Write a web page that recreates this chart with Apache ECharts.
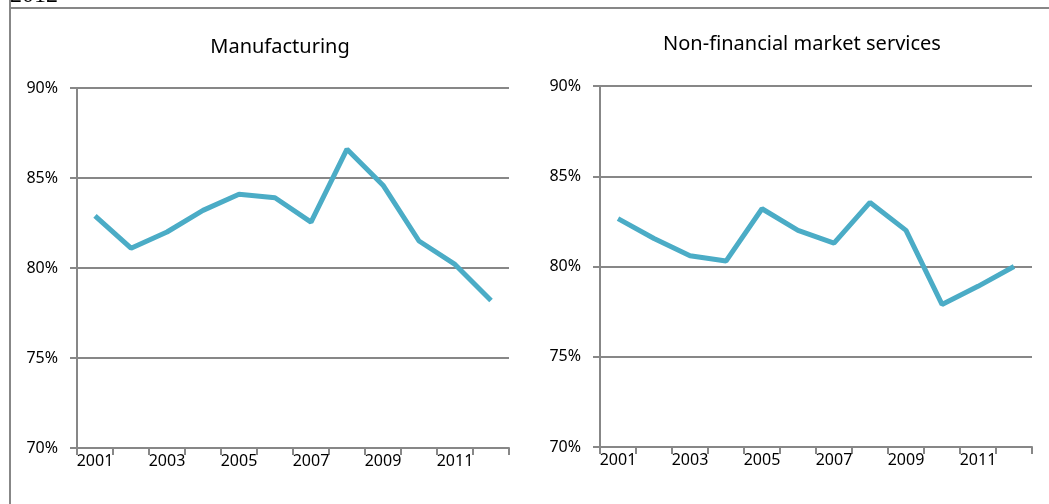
<!DOCTYPE html>
<html>
<head>
<meta charset="utf-8">
<script src="https://cdn.jsdelivr.net/npm/echarts@6/dist/echarts.min.js"></script>
<style>
html,body{margin:0;padding:0;background:#fff;}
#chart{width:1049px;height:504px;}
</style>
</head>
<body>
<div id="chart"></div>
<script>
const years = ['2001','2002','2003','2004','2005','2006','2007','2008','2009','2010','2011','2012'];
const manufacturing = [82.9, 81.1, 82.0, 83.2, 84.1, 83.9, 82.55, 86.6, 84.6, 81.5, 80.2, 78.2];
const services = [82.65, 81.55, 80.6, 80.3, 83.2, 82.0, 81.3, 83.55, 82.0, 77.9, 78.9, 80.0];
const panelTitles = ['Manufacturing', 'Non-financial market services'];
const yMin = 70, yMax = 90, yStep = 5;

const FONT = 'Noto Sans';
const GRAY = '#878787';
const LINE = '#4bacc6';

function xAxis(gridIndex) {
  return {
    type: 'category', gridIndex, data: years, boundaryGap: true,
    axisLine: { show: true, lineStyle: { color: GRAY, width: 2 } },
    axisTick: { show: true, interval: 0, length: 7, lineStyle: { color: GRAY, width: 2 } },
    axisLabel: { interval: 1, margin: 5, color: '#000', fontFamily: FONT, fontSize: 16 },
    splitLine: { show: false }
  };
}
function yAxis(gridIndex) {
  return {
    type: 'value', gridIndex, min: yMin, max: yMax, interval: yStep,
    axisLine: { show: true, lineStyle: { color: GRAY, width: 2 } },
    axisTick: { show: true, length: 7, lineStyle: { color: GRAY, width: 2 } },
    axisLabel: { formatter: '{value}%', margin: 19, color: '#000', fontFamily: FONT, fontSize: 16 },
    splitLine: { show: true, lineStyle: { color: GRAY, width: 2 } }
  };
}

const chart = echarts.init(document.getElementById('chart'), null, { renderer: 'canvas' });
chart.setOption({
  animation: false,
  backgroundColor: '#fff',
  title: [
    { text: panelTitles[0], left: 275, top: 32, textAlign: 'center',
      textStyle: { fontFamily: FONT, fontSize: 20, fontWeight: 'normal', color: '#000' } },
    { text: panelTitles[1], left: 797, top: 29, textAlign: 'center',
      textStyle: { fontFamily: FONT, fontSize: 20, fontWeight: 'normal', color: '#000' } }
  ],
  graphic: [
    { type: 'line', shape: { x1: 10, y1: 0, x2: 10, y2: 504 }, style: { stroke: GRAY, lineWidth: 2 } },
    { type: 'line', shape: { x1: 9, y1: 8, x2: 1049, y2: 8 }, style: { stroke: GRAY, lineWidth: 2 } },
    { type: 'text', x: 10, y: -16, z: 100, style: { text: '2012', font: '24px "Liberation Serif"', fill: '#000', textVerticalAlign: 'top' } }
  ],
  grid: [
    { left: 77, right: 540, top: 88, bottom: 56 },
    { left: 600, right: 17, top: 86, bottom: 57 }
  ],
  xAxis: [xAxis(0), xAxis(1)],
  yAxis: [yAxis(0), yAxis(1)],
  series: [
    { type: 'line', xAxisIndex: 0, yAxisIndex: 0, data: manufacturing, showSymbol: false,
      lineStyle: { color: LINE, width: 5 }, itemStyle: { color: LINE } },
    { type: 'line', xAxisIndex: 1, yAxisIndex: 1, data: services, showSymbol: false,
      lineStyle: { color: LINE, width: 5 }, itemStyle: { color: LINE } }
  ]
});
</script>
</body>
</html>
